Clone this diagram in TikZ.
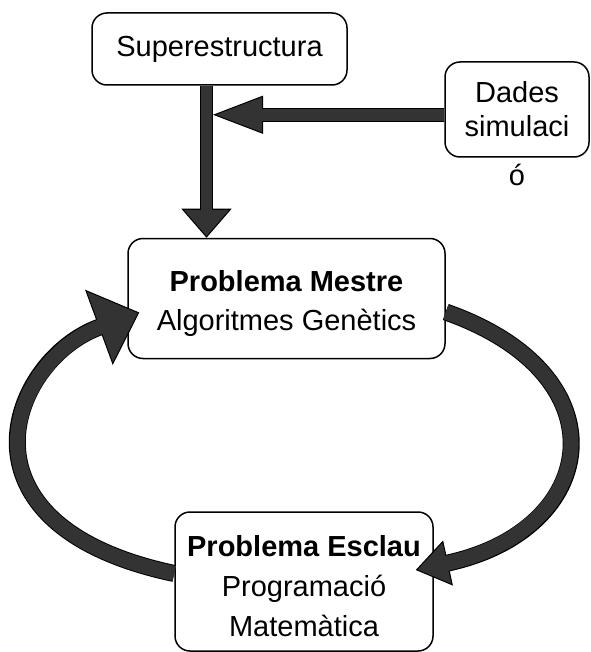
\documentclass[tikz,border=0pt]{standalone}
\usepackage{fontspec}
\setmainfont{Liberation Sans}
\usetikzlibrary{arrows.meta,calc}
\definecolor{arrowgray}{RGB}{51,51,51}
\newcommand{\lowstrut}{\rule{0pt}{15.5pt}}
\tikzset{
    box/.style={draw, rounded corners=7.5pt, line width=0.75pt, fill=white, align=center, inner sep=0pt},
    shaft/.style={draw=black, line width=#1},
    core/.style={draw=arrowgray, line width=#1},
    blockhead/.style 2 args={-{Triangle[length=#1,width=#2,line width=0.5pt,fill=arrowgray]}}
}

\begin{document}
\begin{tikzpicture}[x=0.5pt, y=-0.5pt, font=\fontsize{14.5}{19.5}\selectfont]
    \useasboundingbox (0,0) rectangle (590,652);

    % Draw boxes.
    \node[box, minimum width=127.5pt, minimum height=36pt] (sup) at (219.5,49) {Superestructura};
    \node[box, minimum width=72pt, minimum height=47.5pt, font=\fontsize{14.5}{17}\selectfont,
        label={[inner sep=0pt, label distance=3pt]below:ó}] (dades) at (517,109.5) {Dades\\simulaci};
    \node[box, minimum width=158.5pt, minimum height=60pt] (mestre) at (286.5,298.5)
        {\lowstrut\textbf{Problema Mestre}\\Algoritmes Genètics};
    \node[box, minimum width=129pt, minimum height=69.5pt, font=\fontsize{14.5}{20}\selectfont] (esclau) at (304,581.5)
        {\lowstrut\textbf{Problema Esclau}\\Programació\\Matemàtica};

    % Superestructura and data into the master problem.
    \coordinate (vtop) at ($(sup.south)+(-13,0)$);
    \coordinate (vbot) at (vtop |- mestre.north);
    \coordinate (join) at ($(vtop)+(6.5,29)$);
    \draw[shaft=6.5pt, blockhead={14.5pt}{25pt}] (vtop) -- (vbot);
    \draw[core=5.5pt, shorten >=13.5pt] (vtop) -- (vbot);
    \draw[shaft=7pt, blockhead={25pt}{19pt}] (dades.west |- join) -- (join);
    \draw[core=6pt, shorten >=24pt] (dades.west |- join) -- (join);

    % Loop from slave back to master.
    \draw[shaft=8.5pt, blockhead={21.5pt}{40pt}] ($(esclau.west)+(0,-8)$)
        .. controls (-55,525) and (10,360) .. ($(mestre.west)+(12,14)$);
    \draw[core=7.5pt, shorten >=20.5pt] ($(esclau.west)+(0,-8)$)
        .. controls (-55,525) and (10,360) .. ($(mestre.west)+(12,14)$);

    % Loop from master down to slave.
    \draw[shaft=8.5pt, blockhead={16.5pt}{23pt}] ($(mestre.east)+(0,13.5)$)
        .. controls (625,375) and (600,530) .. ($(esclau.east)+(-18,-11.5)$);
    \draw[core=7.5pt, shorten >=15.5pt] ($(mestre.east)+(0,13.5)$)
        .. controls (625,375) and (600,530) .. ($(esclau.east)+(-18,-11.5)$);
\end{tikzpicture}
\end{document}
